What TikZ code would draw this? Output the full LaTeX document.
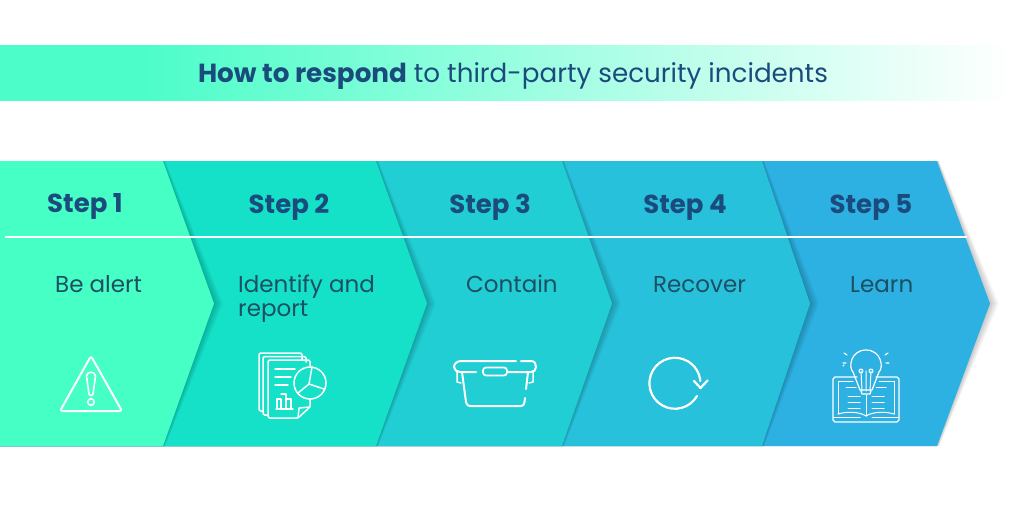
\documentclass[tikz,border=0pt]{standalone}
\usepackage{fontspec}
\setmainfont{Poppins}
\usetikzlibrary{calc}
\definecolor{cA}{HTML}{45FFC5}
\definecolor{cB}{HTML}{14E1C8}
\definecolor{cC}{HTML}{20CED3}
\definecolor{cD}{HTML}{28C1DB}
\definecolor{cE}{HTML}{2CB1E2}
\definecolor{navy}{HTML}{1B4B7C}
\definecolor{bodyink}{HTML}{1D4F63}
\definecolor{bannerstart}{HTML}{4CFDC9}
\pgfdeclarehorizontalshading{bannerfade}{100bp}{color(0bp)=(bannerstart); color(32bp)=(bannerstart); color(75bp)=(white); color(100bp)=(white)}
\tikzset{
  x=1pt,y=-1pt,
  stepname/.style={font=\fontsize{26}{26}\selectfont\bfseries,text=navy,anchor=base,inner sep=0pt},
  steptext/.style={font=\fontsize{23}{24.5}\selectfont,text=bodyink,anchor=base west,inner sep=0pt,align=left},
  icon/.style={draw=white,line width=2pt,line cap=round,line join=round},
  thin icon/.style={draw=white,line width=1.2pt,line cap=round,line join=round},
}
% #1 top-right x, #2 tip x, #3 colour
\newcommand{\chevshape}[2]{(0,161) -- (#1,161) -- (#2,303.5) -- (#1,446) -- (0,446) -- cycle}
\newcommand{\chev}[3]{%
  \foreach \s in {1,2,...,9}{%
    \pgfmathsetmacro{\ra}{#1+0.25*\s}%
    \pgfmathsetmacro{\rb}{#2+\s}%
    \fill[black,opacity=0.024] (0,161) -- (\ra,161) -- (\rb,303.5) -- (\ra,446) -- (0,446) -- cycle;}
  \fill[#3] \chevshape{#1}{#2};}
\begin{document}
\begin{tikzpicture}
\useasboundingbox (0,0) rectangle (1024,512);
\fill[white] (0,0) rectangle (1024,512);
% banner
\path[shading=bannerfade] (0,45) rectangle (1012,100);
\node[anchor=base,inner sep=0pt,text=navy,font=\fontsize{26.2}{26}\selectfont] (title) at (513,82) {\textbf{How to respond} to third-party security incidents};
% chevrons, back to front
\chev{937}{990}{cE}
\chev{762}{810}{cD}
\chev{562}{612}{cC}
\chev{376}{427}{cB}
\chev{163}{214}{cA}
% divider
\coordinate (ruleL) at (5,237);
\coordinate (ruleR) at (967,237);
\draw[white,line width=1.5pt] (ruleL) -- (ruleR);
% labels
\node[stepname] (s1) at (85,212) {Step 1};
\node[stepname] (s2) at (289,213) {Step 2};
\node[stepname] (s3) at (490,213) {Step 3};
\node[stepname] (s4) at (685,213) {Step 4};
\node[stepname] (s5) at (871,213) {Step 5};
\node[steptext] (t1) at (55,292) {Be alert};
\node[steptext,anchor=north west] (t2) at (238,274.5) {Identify and\\report};
\node[steptext] (t3) at (466,292) {Contain};
\node[steptext] (t4) at (653,292) {Recover};
\node[steptext] (t5) at (850,292) {Learn};
% warning icon
\draw[icon,rounded corners=2.5pt] (91,356) -- (122,411) -- (60,411) -- cycle;
\draw[icon,line width=1.6pt] (86.5,376) .. controls (86.5,371) and (95.5,371) .. (95.5,376) -- (93,394) .. controls (92.5,396.5) and (89.5,396.5) .. (89,394) -- cycle;
\draw[icon,line width=1.6pt] (91,402) circle (3.3);
% report icon
\draw[thin icon,line width=1.5pt,rounded corners=1.5pt] (263,411) -- (259,411) -- (259,353) -- (302,353) -- (302,360);
\draw[thin icon,line width=1.5pt,rounded corners=1.5pt] (268,356.5) -- (263,356.5) -- (263,415) -- (268,415) (268,356.5) -- (306,356.5) -- (306,362);
\draw[thin icon,line width=1.5pt,rounded corners=1.5pt] (310,366) -- (310,360) -- (268,360) -- (268,418) -- (298,418) -- (310,407) -- (310,399);
\draw[thin icon,line width=1.5pt] (298,418) -- (299,408) -- (310,407);
\draw[thin icon,line width=1.4pt] (275,369) -- (295,369) (275,377) -- (291,377) (275,385) -- (288,385);
\draw[thin icon] (276,409) -- (293,409) (277,409) -- (277,399) -- (281,399) -- (281,409) (281,394) -- (286,394) -- (286,409) (286,399) -- (291,399) -- (291,409);
\draw[thin icon,line width=1.5pt] (310,383) circle (16);
\draw[thin icon,line width=1.5pt] (312,367) -- (309,384) -- (324,389) (309,384) -- (298,393);
% container icon
\draw[icon] (516,361) -- (461,361) .. controls (457,361) and (454,364) .. (454,367) .. controls (454,370) and (457,372) .. (460,372) -- (476,372);
\draw[icon] (521,361) -- (531,361) .. controls (535,361) and (536,364) .. (536,367) .. controls (536,370) and (534,372) .. (531,372) -- (508,372);
\draw[icon,line width=1.7pt,rounded corners=3pt] (483,367.5) rectangle (507,375.5);
\draw[icon] (462,372) -- (466,402) .. controls (466.5,405) and (468,406) .. (470,406) -- (521,406) .. controls (523,406) and (524,405) .. (524.5,402) -- (525,398);
\draw[icon] (526,389) -- (528,372);
\draw[icon,line width=1.5pt] (457,372) -- (457,382) -- (461,383);
\draw[icon,line width=1.5pt] (533,372) -- (533,382) -- (529,383);
% recover icon
\draw[icon,line width=2.2pt] (697,396) arc[start angle=30,end angle=355,radius=25.5];
\draw[icon,line width=2.2pt] (694,381) -- (700.5,388) -- (707.5,380.5);
% book and bulb icon
\draw[thin icon,line width=1.3pt] (857,377) -- (835,377) -- (833,379) -- (833,420) -- (835,422) -- (897,422) -- (899,420) -- (899,379) -- (897,377) -- (876,377);
\draw[thin icon,line width=1pt] (853,381) -- (838,381) -- (838,414) (879,381) -- (894,381) -- (894,414);
\draw[thin icon,line width=1pt] (838,414) .. controls (848,411) and (860,412) .. (866,416) .. controls (872,412) and (884,411) .. (894,414);
\draw[thin icon,line width=1pt] (833,417) -- (860,417) (872,417) -- (899,417);
\draw[thin icon,line width=1pt] (866,395) -- (866,416);
\draw[thin icon,line width=1pt] (846,387) -- (856,387) (876,387) -- (886,387) (848,396) -- (860,396) (872,396) -- (884,396) (848,402) -- (860,402) (872,402) -- (884,402) (848,408) -- (860,408) (872,408) -- (884,408);
\draw[thin icon] (860,390) -- (853,372) .. controls (848,367) and (851,350) .. (866,350) .. controls (881,350) and (884,367) .. (879,372) -- (872,390) -- cycle;
\draw[thin icon] (861,391) -- (862,394) -- (870,394) -- (871,391);
\draw[thin icon,line width=1pt] (862,391) -- (861,371) (870,391) -- (871,371) (866,391) -- (866,371);
\draw[thin icon,line width=1pt] (861,371) circle (2) (871,371) circle (2);
\draw[thin icon] (844,353) -- (847,355) (843,363) -- (846,363) (844,365) -- (843,366) (888,353) -- (885,355) (889,363) -- (886,363);
\end{tikzpicture}
\end{document}
